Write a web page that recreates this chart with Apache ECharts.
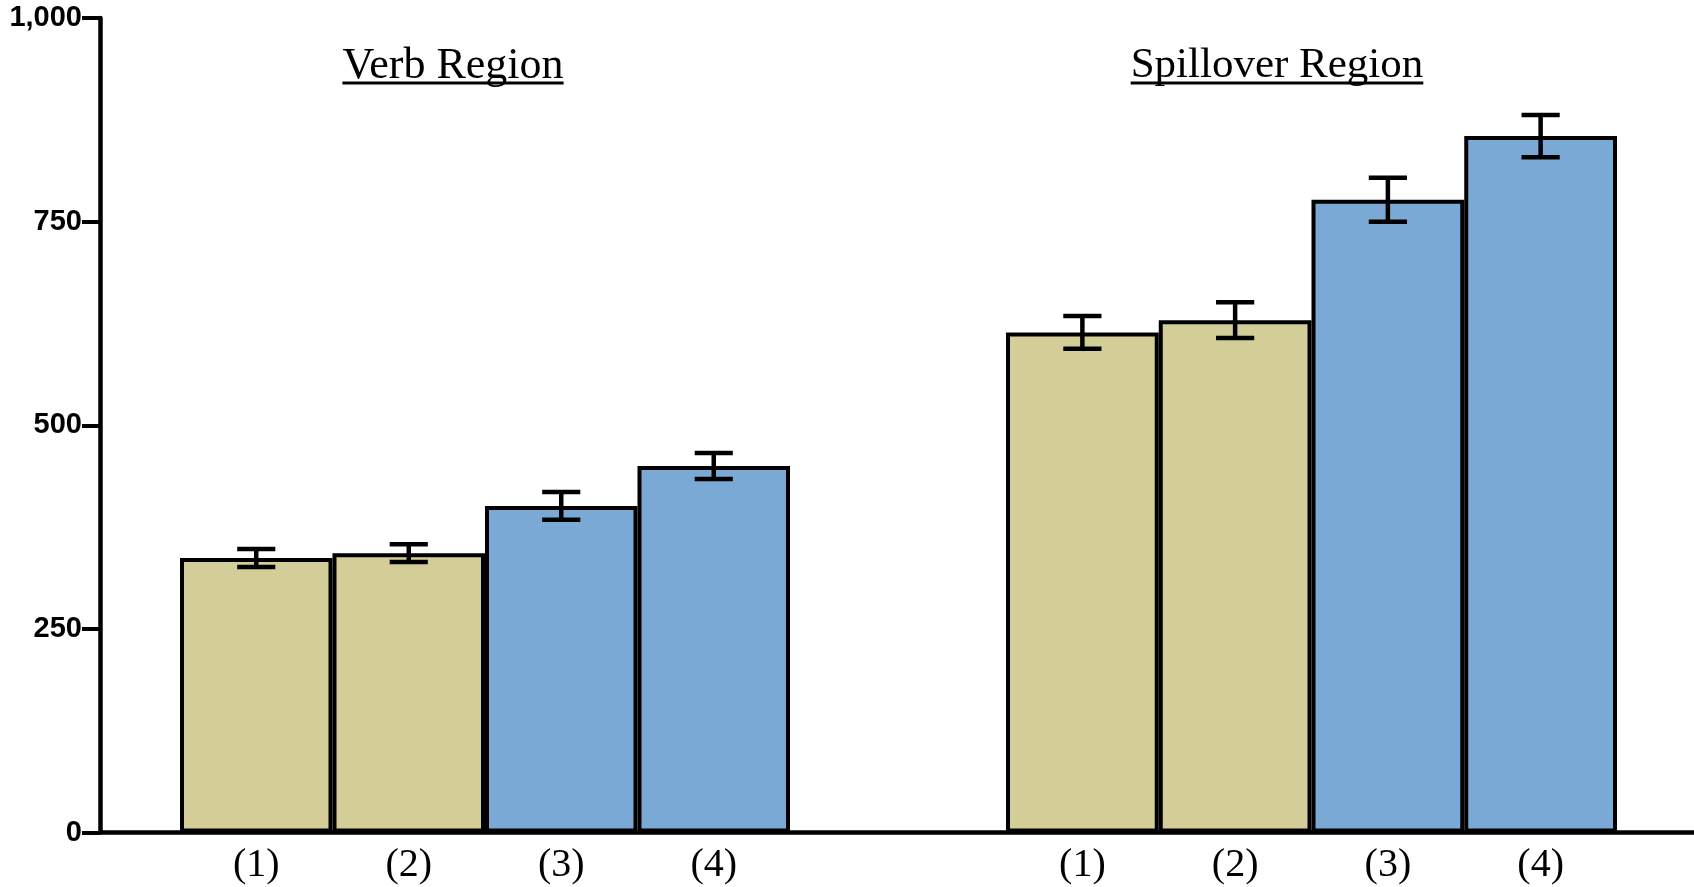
<!DOCTYPE html>
<html>
<head>
<meta charset="utf-8">
<script src="https://cdn.jsdelivr.net/npm/echarts@6/dist/echarts.min.js"></script>
<style>
html,body{margin:0;padding:0;background:#fff;}
#chart{width:1694px;height:887px;}
</style>
</head>
<body>
<div id="chart"></div>
<script>
// ---- data ----
const categories = ['(1)', '(2)', '(3)', '(4)'];
const groupTitles = ['Verb Region', 'Spillover Region'];
const verbMeans = [337, 343, 401, 450];
const verbErr = [11, 11, 17, 16];
const spillMeans = [614, 629, 777, 855];
const spillErr = [20, 22, 27, 26];
const yTicks = [0, 250, 500, 750, 1000];

// ---- style ----
const TAN = '#D3CE98';
const BLUE = '#7BA9D5';
const SERIF = '"Liberation Serif", "Times New Roman", serif';
const SANS = '"Liberation Sans", Arial, sans-serif';
const TOP = 18, BOTTOM = 54.5;

const chart = echarts.init(document.getElementById('chart'), null, {renderer: 'canvas'});

function barSeries(idx, means) {
  return {
    type: 'bar', xAxisIndex: idx, yAxisIndex: idx,
    data: means, barCategoryGap: '0%', z: 2,
    itemStyle: {
      color: p => (p.dataIndex < 2 ? TAN : BLUE),
      borderColor: '#000', borderWidth: 4
    },
    silent: true
  };
}
function errSeries(idx, means, errs) {
  return {
    type: 'custom', xAxisIndex: idx, yAxisIndex: idx, z: 5, silent: true,
    data: means.map((m, i) => [i, m - errs[i], m + errs[i]]),
    renderItem: function (params, api) {
      const lo = api.coord([api.value(0), api.value(1)]);
      const hi = api.coord([api.value(0), api.value(2)]);
      const hw = api.size([1, 0])[0] * 0.125;
      const st = {stroke: '#000', lineWidth: 4.5, fill: null};
      return {
        type: 'group',
        children: [
          {type: 'line', shape: {x1: lo[0], y1: lo[1], x2: hi[0], y2: hi[1]}, style: st},
          {type: 'line', shape: {x1: lo[0] - hw, y1: lo[1], x2: lo[0] + hw, y2: lo[1]}, style: st},
          {type: 'line', shape: {x1: hi[0] - hw, y1: hi[1], x2: hi[0] + hw, y2: hi[1]}, style: st}
        ]
      };
    }
  };
}

function catAxis(idx) {
  return {
    type: 'category', gridIndex: idx, data: categories,
    axisLine: {show: false}, axisTick: {show: false},
    axisLabel: {fontFamily: SERIF, fontSize: 40, color: '#000', margin: 13}
  };
}
function hiddenY(idx) {
  return {type: 'value', gridIndex: idx, min: 0, max: 1000, show: false, splitLine: {show: false}};
}

// measure title widths for underlines
const ctx = document.createElement('canvas').getContext('2d');
const titleSizes = [44, 43];
const titleCenters = [453, 1277];
const titleY = 66;
const graphics = [];
groupTitles.forEach((t, i) => {
  const font = titleSizes[i] + 'px ' + SERIF;
  ctx.font = font;
  const w = ctx.measureText(t).width;
  graphics.push({
    type: 'text', x: titleCenters[i], y: titleY,
    style: {text: t, font: font, fill: '#000', textAlign: 'center', textVerticalAlign: 'middle'}
  });
  graphics.push({
    type: 'line',
    shape: {x1: titleCenters[i] - w / 2, y1: 83, x2: titleCenters[i] + w / 2, y2: 83},
    style: {stroke: '#000', lineWidth: 3}
  });
});

chart.setOption({
  animation: false,
  backgroundColor: '#fff',
  grid: [
    {left: 100, right: 0, top: TOP, bottom: BOTTOM},
    {left: 180, width: 610, top: TOP, bottom: BOTTOM},
    {left: 1006, width: 611, top: TOP, bottom: BOTTOM}
  ],
  xAxis: [
    {type: 'value', gridIndex: 0, min: 0, max: 1,
     axisLine: {show: true, lineStyle: {color: '#000', width: 4.5}},
     axisTick: {show: false}, axisLabel: {show: false}, splitLine: {show: false}},
    catAxis(1), catAxis(2)
  ],
  yAxis: [
    {type: 'value', gridIndex: 0, min: yTicks[0], max: yTicks[yTicks.length - 1], interval: 250,
     axisLine: {show: true, lineStyle: {color: '#000', width: 4.5}},
     axisTick: {show: true, length: 18, lineStyle: {color: '#000', width: 4}},
     splitLine: {show: false},
     axisLabel: {fontFamily: SANS, fontSize: 29, fontWeight: 'bold', color: '#000', margin: 18,
                 padding: [12, 0, 0, 0],
                 formatter: v => echarts.format.addCommas(v)}},
    hiddenY(1), hiddenY(2)
  ],
  graphic: graphics,
  series: [
    barSeries(1, verbMeans), errSeries(1, verbMeans, verbErr),
    barSeries(2, spillMeans), errSeries(2, spillMeans, spillErr)
  ]
});
</script>
</body>
</html>
